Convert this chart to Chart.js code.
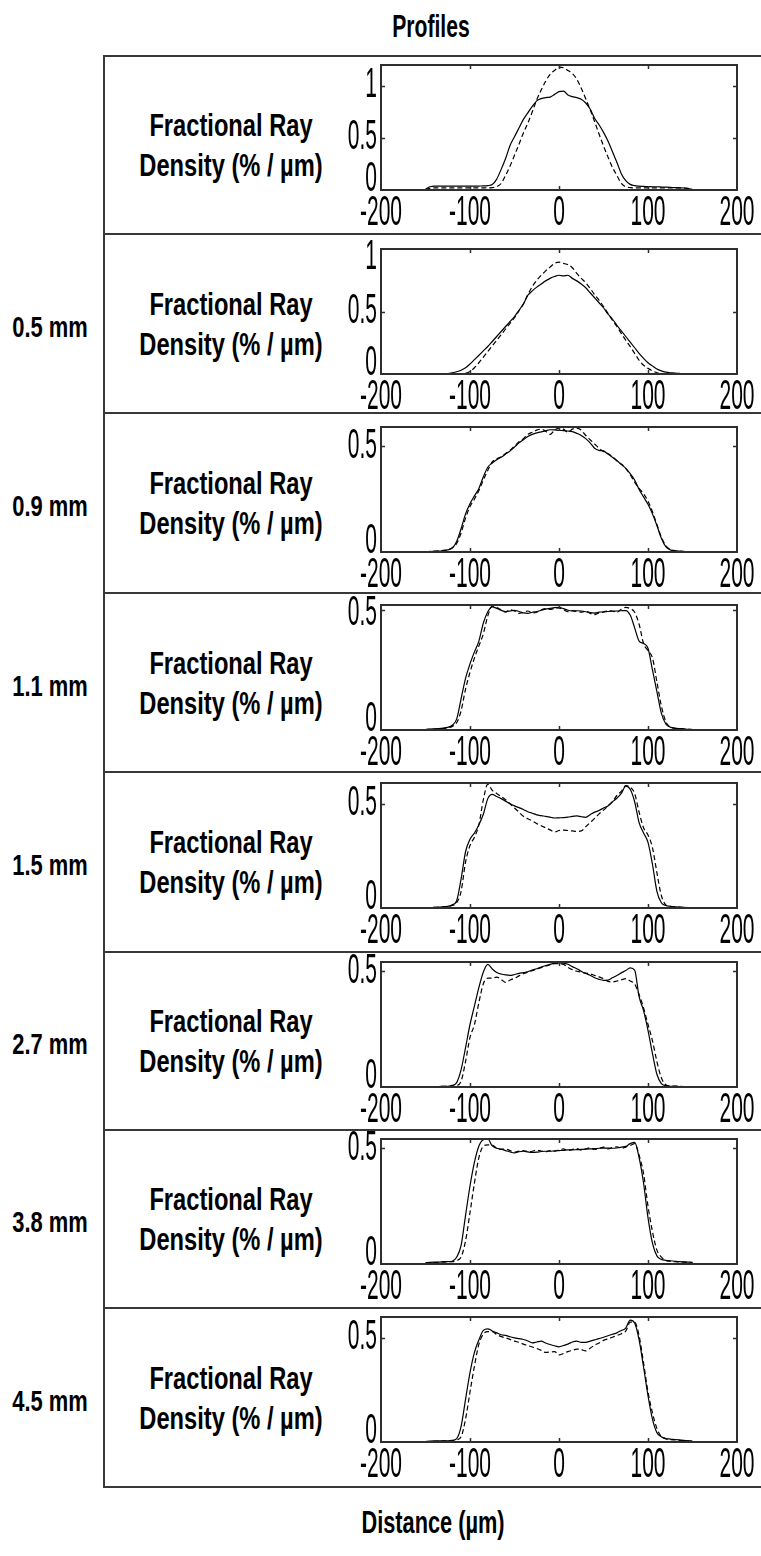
<!DOCTYPE html>
<html>
<head>
<meta charset="utf-8">
<title>Profiles</title>
<script src="https://cdn.jsdelivr.net/npm/chart.js@4.4.1/dist/chart.umd.min.js"></script>
<style>
    html, body { margin: 0; padding: 0; background: #fff; }
    #figure {
        position: relative;
        width: 761px;
        height: 1556px;
        overflow: hidden;
        font-family: "Liberation Sans", Arial, sans-serif;
        color: #000;
    }
    .label {
        position: absolute;
        white-space: nowrap;
        line-height: 1;
        font-weight: bold;
    }
    .frame {
        position: absolute;
        left: 103px;
        top: 55px;
        width: 670px;
        height: 1433px;
        border: 2px solid #383838;
        box-sizing: border-box;
    }
    .divider {
        position: absolute;
        left: 103px;
        width: 670px;
        height: 2px;
        background: #383838;
    }
    canvas { position: absolute; }
</style>
</head>
<body>
<div id="figure">
    <div class="frame"></div>
</div>
<script>
// x positions (µm) shared by every profile
const distance = [
    -150, -145, -140, -135, -130, -125, -120, -115, -110, -105,
    -100, -95, -90, -85, -80, -75, -70, -65, -60, -55,
    -50, -45, -40, -35, -30, -25, -20, -15, -10, -5,
    0, 5, 10, 15, 20, 25, 30, 35, 40, 45,
    50, 55, 60, 65, 70, 75, 80, 85, 90, 95,
    100, 105, 110, 115, 120, 125, 130, 135, 140, 145,
    150
];

// top panel (no depth label)
const solidP1 = [
    0.01, 0.031, 0.037, 0.037, 0.037, 0.037, 0.037, 0.037, 0.037, 0.037,
    0.037, 0.037, 0.038, 0.039, 0.042, 0.052, 0.104, 0.198, 0.303, 0.428,
    0.511, 0.595, 0.678, 0.741, 0.803, 0.856, 0.877, 0.887, 0.892, 0.918,
    0.944, 0.95, 0.913, 0.897, 0.887, 0.871, 0.835, 0.777, 0.689, 0.626,
    0.553, 0.47, 0.37, 0.266, 0.157, 0.089, 0.054, 0.042, 0.037, 0.034,
    0.033, 0.031, 0.031, 0.029, 0.027, 0.025, 0.023, 0.021, 0.019, 0.013,
    0.005
];
const dashedP1 = [
    0.005, 0.016, 0.021, 0.021, 0.021, 0.021, 0.021, 0.021, 0.021, 0.021,
    0.021, 0.021, 0.021, 0.021, 0.021, 0.023, 0.031, 0.063, 0.141, 0.23,
    0.334, 0.438, 0.548, 0.642, 0.751, 0.866, 0.96, 1.044, 1.111, 1.148,
    1.179, 1.174, 1.148, 1.117, 1.064, 0.976, 0.877, 0.772, 0.657, 0.537,
    0.423, 0.318, 0.219, 0.141, 0.063, 0.031, 0.023, 0.021, 0.021, 0.021,
    0.021, 0.021, 0.021, 0.021, 0.021, 0.021, 0.021, 0.021, 0.021, 0.016,
    0.005
];

// 0.5 mm
const solidP2 = [
    0, 0, 0, 0, 0.001, 0.004, 0.01, 0.018, 0.03, 0.05,
    0.08, 0.115, 0.15, 0.185, 0.22, 0.26, 0.3, 0.34, 0.38, 0.42,
    0.46, 0.51, 0.56, 0.63, 0.665, 0.695, 0.72, 0.745, 0.765, 0.78,
    0.79, 0.785, 0.79, 0.765, 0.745, 0.72, 0.69, 0.65, 0.61, 0.57,
    0.53, 0.48, 0.44, 0.39, 0.345, 0.3, 0.255, 0.21, 0.165, 0.125,
    0.09, 0.065, 0.04, 0.025, 0.015, 0.01, 0.008, 0.005, 0.002, 0,
    0
];
const dashedP2 = [
    0, 0, 0, 0, 0, 0, 0, 0, 0, 0.005,
    0.02, 0.05, 0.09, 0.135, 0.18, 0.225, 0.27, 0.315, 0.36, 0.405,
    0.45, 0.505, 0.56, 0.635, 0.7, 0.75, 0.79, 0.825, 0.855, 0.885,
    0.895, 0.885, 0.875, 0.85, 0.805, 0.765, 0.73, 0.685, 0.635, 0.59,
    0.54, 0.485, 0.43, 0.38, 0.325, 0.27, 0.22, 0.165, 0.11, 0.07,
    0.045, 0.025, 0.01, 0.003, 0, 0, 0, 0, 0, 0,
    0
];

// 0.9 mm
const solidP3 = [
    0, 0.002, 0.003, 0.004, 0.006, 0.01, 0.018, 0.05, 0.11, 0.18,
    0.228, 0.265, 0.3, 0.355, 0.4, 0.42, 0.435, 0.447, 0.462, 0.477,
    0.495, 0.515, 0.53, 0.545, 0.555, 0.562, 0.567, 0.572, 0.577, 0.576,
    0.574, 0.573, 0.571, 0.568, 0.56, 0.55, 0.535, 0.515, 0.49, 0.48,
    0.477, 0.462, 0.447, 0.432, 0.413, 0.395, 0.37, 0.34, 0.295, 0.26,
    0.225, 0.18, 0.125, 0.065, 0.025, 0.01, 0.006, 0.004, 0.002, 0,
    0
];
const dashedP3 = [
    0, 0.003, 0.004, 0.006, 0.008, 0.012, 0.02, 0.04, 0.09, 0.16,
    0.215, 0.25, 0.29, 0.34, 0.385, 0.425, 0.44, 0.45, 0.465, 0.48,
    0.5, 0.52, 0.535, 0.555, 0.565, 0.575, 0.58, 0.57, 0.555, 0.575,
    0.585, 0.58, 0.565, 0.58, 0.585, 0.575, 0.55, 0.53, 0.51, 0.49,
    0.475, 0.465, 0.45, 0.43, 0.415, 0.395, 0.365, 0.33, 0.3, 0.275,
    0.24, 0.19, 0.13, 0.07, 0.03, 0.012, 0.007, 0.005, 0.003, 0.001,
    0
];

// 1.1 mm
const solidP4 = [
    0.002, 0.004, 0.005, 0.006, 0.008, 0.011, 0.02, 0.045, 0.13, 0.215,
    0.275, 0.325, 0.37, 0.445, 0.492, 0.512, 0.506, 0.498, 0.493, 0.495,
    0.498, 0.493, 0.487, 0.485, 0.49, 0.493, 0.498, 0.503, 0.506, 0.509,
    0.51, 0.505, 0.498, 0.495, 0.496, 0.495, 0.492, 0.488, 0.486, 0.49,
    0.492, 0.493, 0.494, 0.495, 0.496, 0.497, 0.478, 0.425, 0.37, 0.36,
    0.34, 0.25, 0.16, 0.07, 0.025, 0.012, 0.008, 0.006, 0.005, 0.003,
    0.002
];
const dashedP4 = [
    0.002, 0.003, 0.004, 0.005, 0.006, 0.009, 0.015, 0.03, 0.08, 0.17,
    0.24, 0.3, 0.35, 0.4, 0.475, 0.515, 0.51, 0.5, 0.49, 0.5,
    0.495, 0.485, 0.49, 0.495, 0.487, 0.49, 0.5, 0.505, 0.502, 0.506,
    0.508, 0.5, 0.492, 0.497, 0.493, 0.49, 0.495, 0.485, 0.48, 0.487,
    0.49, 0.497, 0.495, 0.49, 0.502, 0.51, 0.505, 0.49, 0.44, 0.36,
    0.33, 0.3, 0.2, 0.1, 0.035, 0.012, 0.007, 0.005, 0.004, 0.003,
    0.002
];

// 1.5 mm
const solidP5 = [
    0.001, 0.002, 0.003, 0.004, 0.005, 0.008, 0.015, 0.035, 0.14, 0.27,
    0.33, 0.36, 0.4, 0.45, 0.525, 0.545, 0.535, 0.525, 0.513, 0.5,
    0.49, 0.482, 0.473, 0.462, 0.455, 0.447, 0.443, 0.44, 0.436, 0.432,
    0.433, 0.434, 0.436, 0.44, 0.442, 0.438, 0.435, 0.448, 0.46, 0.468,
    0.48, 0.49, 0.51, 0.527, 0.55, 0.585, 0.57, 0.51, 0.41, 0.36,
    0.315, 0.21, 0.08, 0.025, 0.012, 0.008, 0.006, 0.004, 0.003, 0.002,
    0.001
];
const dashedP5 = [
    0.001, 0.002, 0.003, 0.004, 0.005, 0.007, 0.012, 0.025, 0.08, 0.22,
    0.3, 0.34, 0.4, 0.52, 0.595, 0.565, 0.55, 0.535, 0.52, 0.5,
    0.48, 0.46, 0.44, 0.428, 0.418, 0.405, 0.395, 0.385, 0.375, 0.365,
    0.372, 0.374, 0.372, 0.37, 0.368, 0.37, 0.39, 0.41, 0.43, 0.452,
    0.47, 0.49, 0.51, 0.54, 0.56, 0.588, 0.58, 0.55, 0.46, 0.385,
    0.35, 0.29, 0.17, 0.06, 0.015, 0.008, 0.005, 0.004, 0.003, 0.002,
    0.001
];

// 2.7 mm
const solidP6 = [
    0.001, 0.001, 0.002, 0.002, 0.003, 0.003, 0.007, 0.019, 0.075, 0.17,
    0.27, 0.35, 0.43, 0.497, 0.53, 0.51, 0.495, 0.488, 0.484, 0.482,
    0.486, 0.491, 0.494, 0.498, 0.505, 0.511, 0.518, 0.525, 0.53, 0.534,
    0.536, 0.535, 0.53, 0.52, 0.511, 0.5, 0.49, 0.483, 0.472, 0.465,
    0.461, 0.462, 0.472, 0.482, 0.493, 0.503, 0.515, 0.505, 0.39, 0.33,
    0.245, 0.145, 0.055, 0.015, 0.006, 0.003, 0.003, 0.002, 0.002, 0.001,
    0.001
];
const dashedP6 = [
    0.001, 0.001, 0.002, 0.002, 0.003, 0.003, 0.004, 0.006, 0.025, 0.11,
    0.214, 0.27, 0.365, 0.446, 0.47, 0.47, 0.475, 0.465, 0.452, 0.462,
    0.47, 0.48, 0.489, 0.497, 0.503, 0.51, 0.515, 0.522, 0.528, 0.533,
    0.532, 0.53, 0.517, 0.507, 0.5, 0.496, 0.492, 0.489, 0.482, 0.476,
    0.468, 0.456, 0.454, 0.458, 0.463, 0.468, 0.458, 0.445, 0.4, 0.342,
    0.27, 0.2, 0.11, 0.04, 0.01, 0.005, 0.004, 0.003, 0.002, 0.001,
    0.001
];

// 3.8 mm
const solidP7 = [
    0.005, 0.007, 0.008, 0.008, 0.01, 0.01, 0.012, 0.029, 0.08, 0.21,
    0.337, 0.44, 0.51, 0.537, 0.54, 0.51, 0.5, 0.496, 0.49, 0.484,
    0.48, 0.485, 0.487, 0.484, 0.482, 0.483, 0.486, 0.487, 0.487, 0.489,
    0.49, 0.491, 0.493, 0.493, 0.494, 0.495, 0.496, 0.497, 0.498, 0.5,
    0.501, 0.501, 0.5, 0.501, 0.505, 0.508, 0.52, 0.525, 0.46, 0.35,
    0.2, 0.09, 0.035, 0.02, 0.016, 0.014, 0.012, 0.01, 0.009, 0.008,
    0.007
];
const dashedP7 = [
    0.004, 0.005, 0.006, 0.007, 0.008, 0.009, 0.01, 0.015, 0.03, 0.1,
    0.222, 0.35, 0.46, 0.509, 0.515, 0.514, 0.501, 0.495, 0.497, 0.49,
    0.483, 0.488, 0.49, 0.485, 0.487, 0.492, 0.488, 0.485, 0.49, 0.487,
    0.493, 0.497, 0.49, 0.495, 0.499, 0.492, 0.497, 0.502, 0.495, 0.499,
    0.505, 0.497, 0.503, 0.506, 0.5, 0.505, 0.512, 0.52, 0.47, 0.39,
    0.25, 0.14, 0.06, 0.03, 0.015, 0.012, 0.01, 0.009, 0.008, 0.007,
    0.006
];

// 4.5 mm
const solidP8 = [
    0.002, 0.004, 0.005, 0.005, 0.006, 0.006, 0.008, 0.016, 0.075, 0.205,
    0.333, 0.43, 0.49, 0.536, 0.543, 0.533, 0.524, 0.515, 0.512, 0.505,
    0.5, 0.496, 0.492, 0.485, 0.476, 0.48, 0.484, 0.475, 0.468, 0.462,
    0.457, 0.463, 0.47, 0.48, 0.484, 0.478, 0.478, 0.484, 0.49, 0.496,
    0.503, 0.51, 0.517, 0.524, 0.535, 0.547, 0.585, 0.571, 0.49, 0.36,
    0.222, 0.11, 0.045, 0.025, 0.017, 0.014, 0.012, 0.01, 0.008, 0.006,
    0.004
];
const dashedP8 = [
    0.001, 0.002, 0.003, 0.004, 0.005, 0.006, 0.007, 0.01, 0.025, 0.11,
    0.24, 0.365, 0.47, 0.518, 0.53, 0.53, 0.516, 0.506, 0.5, 0.492,
    0.484, 0.478, 0.47, 0.463, 0.456, 0.449, 0.44, 0.43, 0.432, 0.434,
    0.418, 0.425, 0.434, 0.44, 0.446, 0.444, 0.437, 0.45, 0.465, 0.475,
    0.488, 0.495, 0.503, 0.511, 0.52, 0.532, 0.575, 0.575, 0.51, 0.38,
    0.24, 0.14, 0.065, 0.027, 0.015, 0.012, 0.01, 0.008, 0.006, 0.005,
    0.004
];

const panelLabels = ['', '0.5 mm', '0.9 mm', '1.1 mm', '1.5 mm', '2.7 mm', '3.8 mm', '4.5 mm'];
const yMax = [1.2, 1, 0.59, 0.52, 0.6, 0.54, 0.54, 0.6];
const xTicks = [-200, -100, 0, 100, 200];
const yTicksTall = [0, 0.5, 1];
const yTicksShort = [0, 0.5];

const solidSeries = [solidP1, solidP2, solidP3, solidP4, solidP5, solidP6, solidP7, solidP8];
const dashedSeries = [dashedP1, dashedP2, dashedP3, dashedP4, dashedP5, dashedP6, dashedP7, dashedP8];

// page layout (pixels)
const dividerY = [55, 234, 413, 593, 772, 952, 1130, 1308, 1488];
const plotTop = [65, 249, 427, 605, 783, 962, 1139, 1317];
const PLOT_LEFT = 381;
const PLOT_RIGHT = 737;
const PLOT_HEIGHT = 125;
const CANVAS_LEFT = 330;
const CANVAS_RIGHT = 761;

const figure = document.getElementById('figure');

function addLabel(text, cx, cy, size, squeeze) {
    const el = document.createElement('div');
    el.className = 'label';
    el.textContent = text;
    el.style.left = cx + 'px';
    el.style.top = cy + 'px';
    el.style.fontSize = size + 'px';
    el.style.transform = `translate(-50%, -50%) scaleX(${squeeze})`;
    figure.appendChild(el);
}

// tall, narrow tick numbers like the original condensed face
function condensedText(ctx, text, x, y, align) {
    ctx.save();
    ctx.translate(x, y);
    ctx.scale(0.5, 1);
    ctx.textAlign = align;
    ctx.fillText(text, 0, 0);
    ctx.restore();
}

const boxPlugin = {
    id: 'profileBox',
    afterDatasetsDraw(chart) {
        const { ctx, chartArea: a, scales: { x, y } } = chart;
        ctx.save();
        ctx.setLineDash([]);
        ctx.strokeStyle = '#2e2e2e';
        ctx.lineWidth = 2;
        ctx.strokeRect(a.left, a.top, a.right - a.left, a.bottom - a.top);

        // small inward tick marks on all four sides
        ctx.lineWidth = 1.5;
        ctx.beginPath();
        x.ticks.forEach(t => {
            const px = Math.round(x.getPixelForValue(t.value)) + 0.5;
            if (px < a.left + 3 || px > a.right - 3) return;
            ctx.moveTo(px, a.bottom);
            ctx.lineTo(px, a.bottom - 4);
            ctx.moveTo(px, a.top);
            ctx.lineTo(px, a.top + 4);
        });
        y.ticks.forEach(t => {
            const py = Math.round(y.getPixelForValue(t.value)) + 0.5;
            if (py < a.top + 3 || py > a.bottom - 3) return;
            ctx.moveTo(a.left, py);
            ctx.lineTo(a.left + 4, py);
            ctx.moveTo(a.right, py);
            ctx.lineTo(a.right - 4, py);
        });
        ctx.stroke();

        ctx.fillStyle = '#000';
        ctx.font = '42px "Liberation Sans", Arial, sans-serif';
        ctx.textBaseline = 'middle';
        x.ticks.forEach(t => {
            condensedText(ctx, String(t.value), x.getPixelForValue(t.value), a.bottom + 23, 'center');
        });
        y.ticks.forEach(t => {
            const py = Math.min(Math.max(y.getPixelForValue(t.value), a.top + 8), a.bottom - 11);
            condensedText(ctx, String(t.value), a.left - 4, py, 'right');
        });
        ctx.restore();
    }
};

function makePanel(i) {
    const top = dividerY[i];
    const bottom = dividerY[i + 1];
    const mid = (top + bottom) / 2;

    if (i > 0) {
        const line = document.createElement('div');
        line.className = 'divider';
        line.style.top = (top - 1) + 'px';
        figure.appendChild(line);
    }

    addLabel('Fractional Ray', 231, mid - 20, 32, 0.74);
    addLabel('Density (% / µm)', 231, mid + 20, 32, 0.74);
    if (panelLabels[i]) addLabel(panelLabels[i], 50, mid + 3, 30, 0.73);

    const canvasTop = top + 1;
    const canvasHeight = bottom - top - 2;
    const canvas = document.createElement('canvas');
    canvas.width = CANVAS_RIGHT - CANVAS_LEFT;
    canvas.height = canvasHeight;
    canvas.style.left = CANVAS_LEFT + 'px';
    canvas.style.top = canvasTop + 'px';
    canvas.style.width = canvas.width + 'px';
    canvas.style.height = canvasHeight + 'px';
    figure.appendChild(canvas);

    const padTop = plotTop[i] - canvasTop;
    const yTicks = yMax[i] >= 1 ? yTicksTall : yTicksShort;

    const lineStyle = {
        borderColor: '#000',
        borderWidth: 1.2,
        pointRadius: 0,
        fill: false,
        cubicInterpolationMode: 'monotone'
    };

    new Chart(canvas, {
        type: 'line',
        data: {
            datasets: [
                {
                    ...lineStyle,
                    label: 'solid',
                    data: distance.map((d, k) => ({ x: d, y: solidSeries[i][k] }))
                },
                {
                    ...lineStyle,
                    label: 'dashed',
                    borderDash: [5, 3],
                    data: distance.map((d, k) => ({ x: d, y: dashedSeries[i][k] }))
                }
            ]
        },
        options: {
            responsive: false,
            animation: false,
            devicePixelRatio: 1,
            events: [],
            layout: {
                autoPadding: false,
                padding: {
                    left: PLOT_LEFT - CANVAS_LEFT,
                    right: CANVAS_RIGHT - PLOT_RIGHT,
                    top: padTop,
                    bottom: canvasHeight - padTop - PLOT_HEIGHT
                }
            },
            plugins: {
                legend: { display: false },
                tooltip: { enabled: false }
            },
            scales: {
                x: {
                    type: 'linear',
                    min: -200,
                    max: 200,
                    afterBuildTicks: scale => { scale.ticks = xTicks.map(v => ({ value: v })); },
                    ticks: { display: false },
                    grid: { display: false, drawTicks: false },
                    border: { display: false }
                },
                y: {
                    type: 'linear',
                    min: 0,
                    max: yMax[i],
                    afterBuildTicks: scale => { scale.ticks = yTicks.map(v => ({ value: v })); },
                    ticks: { display: false },
                    grid: { display: false, drawTicks: false },
                    border: { display: false }
                }
            }
        },
        plugins: [boxPlugin]
    });
}

addLabel('Profiles', 431, 26, 32, 0.66);
addLabel('Distance (µm)', 433, 1522, 32, 0.68);

for (let i = 0; i < solidSeries.length; i++) {
    makePanel(i);
}
</script>
</body>
</html>
